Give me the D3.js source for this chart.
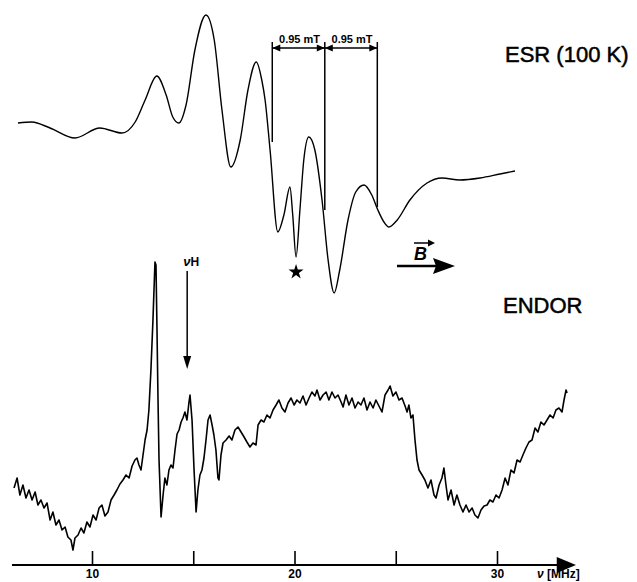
<!DOCTYPE html>
<html>
<head>
<meta charset="utf-8">
<script src="https://cdn.jsdelivr.net/npm/d3@7"></script>
<style>
  body { margin: 0; background: #fff; }
  svg { display: block; font-family: "Liberation Sans", Arial, sans-serif; }
</style>
</head>
<body>
<div id="chart"></div>
<script>
// ESR first-derivative trace: [field offset in mT, signal]
const esrTrace = [
  [0.00, 17], [0.25, 18], [0.58, 12], [1.03, 2], [1.48, 12], [1.88, 7],
  [2.12, 18], [2.30, 40], [2.51, 64], [2.68, 45], [2.80, 23], [2.91, 17],
  [3.04, 35], [3.20, 90], [3.40, 125], [3.55, 100], [3.69, 30], [3.85, -27],
  [4.02, 0], [4.16, 50], [4.31, 78], [4.41, 60], [4.47, 40], [4.56, -10],
  [4.70, -92], [4.81, -75], [4.92, -47], [4.97, -75], [5.03, -117], [5.10, -70],
  [5.17, -20], [5.26, 3], [5.37, -10], [5.50, -60], [5.61, -120], [5.72, -153],
  [5.82, -130], [5.97, -80], [6.11, -52], [6.26, -45], [6.40, -55], [6.51, -70],
  [6.62, -82], [6.71, -87], [6.86, -80], [7.09, -60], [7.40, -43], [7.67, -38],
  [7.99, -40], [8.36, -38], [8.72, -34], [8.99, -31]
];

// ENDOR trace: [frequency in MHz, signal]
const endorTrace = [
  [6.15, 62], [6.30, 72], [6.44, 55], [6.59, 65], [6.74, 52], [6.89, 60],
  [7.04, 50], [7.19, 58], [7.33, 45], [7.48, 50], [7.63, 42], [7.78, 47],
  [7.93, 30], [8.07, 38], [8.22, 25], [8.37, 30], [8.52, 20], [8.67, 23],
  [8.81, 13], [8.96, 10], [9.06, 0], [9.16, 12], [9.31, 15], [9.46, 22],
  [9.60, 17], [9.75, 28], [9.90, 23], [10.05, 35], [10.20, 30], [10.35, 42],
  [10.49, 45], [10.64, 34], [10.79, 38], [10.94, 50], [11.09, 55], [11.23, 60],
  [11.38, 66], [11.53, 70], [11.68, 75], [11.83, 72], [11.98, 84], [12.12, 90],
  [12.22, 92], [12.32, 85], [12.42, 80], [12.52, 95], [12.62, 110], [12.72, 120],
  [12.81, 140], [12.91, 180], [13.01, 230], [13.11, 288], [13.16, 285], [13.21, 220],
  [13.26, 150], [13.31, 90], [13.41, 33], [13.51, 55], [13.60, 72], [13.70, 65],
  [13.80, 80], [13.90, 85], [14.00, 82], [14.10, 100], [14.20, 116], [14.30, 120],
  [14.40, 128], [14.49, 132], [14.59, 138], [14.69, 130], [14.79, 148], [14.84, 155],
  [14.94, 130], [15.04, 80], [15.14, 38], [15.23, 60], [15.33, 75], [15.43, 80],
  [15.53, 92], [15.63, 110], [15.73, 130], [15.83, 135], [15.93, 125], [16.02, 115],
  [16.12, 100], [16.22, 72], [16.27, 70], [16.37, 95], [16.47, 107], [16.62, 110],
  [16.77, 114], [16.91, 110], [17.06, 120], [17.21, 123], [17.36, 118], [17.51, 113],
  [17.65, 108], [17.80, 103], [17.95, 107], [18.10, 105], [18.20, 125], [18.35, 130],
  [18.49, 128], [18.64, 135], [18.79, 132], [18.94, 140], [19.09, 145], [19.23, 150],
  [19.38, 142], [19.53, 138], [19.68, 147], [19.83, 152], [19.98, 145], [20.12, 150],
  [20.27, 147], [20.42, 154], [20.57, 145], [20.72, 152], [20.86, 158], [21.01, 154],
  [21.11, 160], [21.26, 150], [21.41, 155], [21.56, 158], [21.70, 150], [21.85, 158],
  [22.00, 152], [22.15, 155], [22.30, 148], [22.40, 143], [22.54, 155], [22.69, 145],
  [22.84, 152], [22.99, 142], [23.14, 148], [23.28, 145], [23.43, 152], [23.58, 140],
  [23.73, 148], [23.88, 142], [24.02, 150], [24.17, 144], [24.32, 138], [24.47, 155],
  [24.62, 160], [24.72, 164], [24.86, 154], [25.01, 158], [25.16, 150], [25.31, 152],
  [25.46, 144], [25.56, 138], [25.65, 145], [25.75, 132], [25.85, 135], [25.95, 110],
  [26.05, 90], [26.15, 80], [26.30, 75], [26.44, 70], [26.59, 62], [26.74, 70],
  [26.89, 55], [26.99, 52], [27.14, 65], [27.28, 72], [27.38, 82], [27.48, 65],
  [27.58, 50], [27.73, 60], [27.88, 45], [28.02, 55], [28.17, 45], [28.32, 38],
  [28.47, 45], [28.62, 38], [28.77, 42], [28.91, 35], [29.06, 32], [29.21, 40],
  [29.36, 44], [29.51, 45], [29.65, 50], [29.80, 48], [29.95, 55], [30.10, 52],
  [30.25, 60], [30.40, 72], [30.54, 65], [30.69, 80], [30.84, 77], [30.99, 90],
  [31.14, 88], [31.28, 95], [31.43, 102], [31.58, 108], [31.73, 110], [31.88, 122],
  [32.02, 118], [32.17, 128], [32.32, 125], [32.47, 130], [32.62, 135], [32.77, 132],
  [32.91, 140], [33.06, 142], [33.21, 138], [33.31, 150], [33.41, 160], [33.46, 157]
];

// Axis ticks and labels
const freqTicks = [10, 15, 20, 25, 30];
const freqLabels = [10, 20, 30];

// Hyperfine splitting markers (mT), the signal where each line stops, and label
const splitFields = [4.60, 5.55, 6.50];
const splitBottoms = [-2, -70, -67];
const splitLabel = '0.95 mT';

const nuH = 14.7;        // free proton frequency, MHz
const starField = 5.03;  // ESR line used for ENDOR

const width = 637;
const height = 582;

const svg = d3.select('#chart')
  .append('svg')
  .attr('width', width)
  .attr('height', height);

svg.append('rect')
  .attr('width', width)
  .attr('height', height)
  .attr('fill', '#fff');

// Scales
const xEsr = d3.scaleLinear().domain([0, 9]).range([18, 515.5]);
const yEsr = d3.scaleLinear().domain([-150, 120]).range([290, 20]);
const x = d3.scaleLinear().domain([10, 30]).range([92, 497]);
const y = d3.scaleLinear().domain([0, 300]).range([550, 250]);

// ESR trace
svg.append('path')
  .datum(esrTrace)
  .attr('fill', 'none')
  .attr('stroke', '#000')
  .attr('stroke-width', 1.4)
  .attr('d', d3.line()
    .x(d => xEsr(d[0]))
    .y(d => yEsr(d[1]))
    .curve(d3.curveMonotoneX));

// splitting brackets
const bracketTop = yEsr(98);
const bracketY = yEsr(92);
splitFields.forEach((f, i) => {
  svg.append('line')
    .attr('x1', xEsr(f)).attr('x2', xEsr(f))
    .attr('y1', bracketTop).attr('y2', yEsr(splitBottoms[i]))
    .attr('stroke', '#000')
    .attr('stroke-width', 1.5);
});

for (let i = 0; i < splitFields.length - 1; i++) {
  const a = xEsr(splitFields[i]);
  const b = xEsr(splitFields[i + 1]);
  svg.append('line')
    .attr('x1', a).attr('x2', b)
    .attr('y1', bracketY).attr('y2', bracketY)
    .attr('stroke', '#000')
    .attr('stroke-width', 1.6);
  svg.append('path')
    .attr('d', `M${a},${bracketY}L${a + 8},${bracketY - 3.5}L${a + 8},${bracketY + 3.5}Z`
      + `M${b},${bracketY}L${b - 8},${bracketY - 3.5}L${b - 8},${bracketY + 3.5}Z`)
    .attr('fill', '#000');
  svg.append('text')
    .attr('x', (a + b) / 2 + 1)
    .attr('y', bracketTop + 1)
    .attr('text-anchor', 'middle')
    .attr('font-size', 11)
    .attr('font-weight', 'bold')
    .text(splitLabel);
}

// star under the line used for ENDOR
svg.append('path')
  .attr('transform', `translate(${xEsr(starField)},272)`)
  .attr('d', d3.symbol(d3.symbolStar, 70)())
  .attr('fill', '#000');

// field direction arrow
svg.append('line')
  .attr('x1', 397).attr('x2', 437)
  .attr('y1', 266).attr('y2', 266)
  .attr('stroke', '#000')
  .attr('stroke-width', 2.5);
svg.append('path')
  .attr('d', 'M455,266L433,258L436,266L433,274Z')
  .attr('fill', '#000');
svg.append('text')
  .attr('x', 414)
  .attr('y', 260)
  .attr('font-size', 18)
  .attr('font-weight', 'bold')
  .attr('font-style', 'italic')
  .text('B');
svg.append('line')
  .attr('x1', 414).attr('x2', 430)
  .attr('y1', 243).attr('y2', 243)
  .attr('stroke', '#000')
  .attr('stroke-width', 1.5);
svg.append('path')
  .attr('d', 'M435,243L428,239.5L428,246.5Z')
  .attr('fill', '#000');

// titles
svg.append('text')
  .attr('x', 505)
  .attr('y', 62)
  .attr('font-size', 22)
  .attr('stroke', '#000')
  .attr('stroke-width', 0.5)
  .text('ESR (100 K)');

svg.append('text')
  .attr('x', 503)
  .attr('y', 313)
  .attr('font-size', 22)
  .attr('stroke', '#000')
  .attr('stroke-width', 0.5)
  .text('ENDOR');

// ENDOR trace
svg.append('path')
  .datum(endorTrace)
  .attr('fill', 'none')
  .attr('stroke', '#000')
  .attr('stroke-width', 1.6)
  .attr('stroke-linejoin', 'round')
  .attr('d', d3.line()
    .x(d => x(d[0]))
    .y(d => y(d[1])));

// free proton marker
svg.append('line')
  .attr('x1', x(nuH)).attr('x2', x(nuH))
  .attr('y1', 271).attr('y2', 360)
  .attr('stroke', '#000')
  .attr('stroke-width', 1.5);
svg.append('path')
  .attr('d', `M${x(nuH)},369L${x(nuH) - 4},356L${x(nuH) + 4},356Z`)
  .attr('fill', '#000');
const nuLabel = svg.append('text')
  .attr('x', x(nuH) - 4)
  .attr('y', 266)
  .attr('font-size', 13)
  .attr('font-weight', 'bold');
nuLabel.append('tspan').attr('font-style', 'italic').text('ν');
nuLabel.append('tspan').attr('font-size', 12).text('H');

// frequency axis
const axisY = 565;
svg.append('line')
  .attr('x1', x(6.05)).attr('x2', x(33.0))
  .attr('y1', axisY).attr('y2', axisY)
  .attr('stroke', '#000')
  .attr('stroke-width', 2.2);
svg.append('path')
  .attr('d', `M${x(33.9)},${axisY}L${x(32.95)},${axisY - 8}L${x(32.95)},${axisY + 8}Z`)
  .attr('fill', '#000');

const axis = svg.append('g')
  .attr('transform', `translate(0,${axisY})`)
  .call(d3.axisBottom(x)
    .tickValues(freqTicks)
    .tickSizeInner(-14)
    .tickSizeOuter(0)
    .tickPadding(4)
    .tickFormat(d => freqLabels.includes(d) ? d : ''));
axis.select('.domain').remove();
axis.selectAll('.tick line').attr('stroke-width', 1.6);
axis.selectAll('.tick text')
  .attr('font-size', 12)
  .attr('font-weight', 'bold')
  .attr('font-family', '"Liberation Sans", Arial, sans-serif');

const unit = svg.append('text')
  .attr('x', 537)
  .attr('y', 578)
  .attr('font-size', 12)
  .attr('font-weight', 'bold');
unit.append('tspan').attr('font-style', 'italic').text('ν');
unit.append('tspan').text(' [MHz]');
</script>
</body>
</html>
